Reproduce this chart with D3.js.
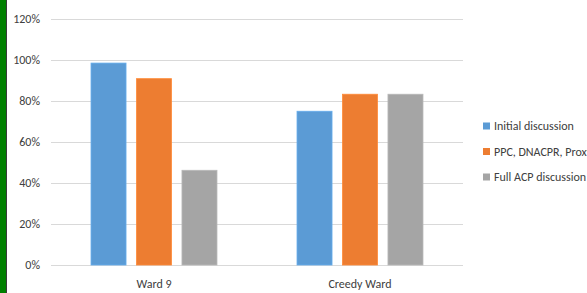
<!DOCTYPE html>
<html>
<head>
<meta charset="utf-8">
<script src="https://cdn.jsdelivr.net/npm/d3@7"></script>
<style>
  body { margin: 0; background: #fff; }
  text { font-family: Carlito, "Liberation Sans Narrow", "Liberation Sans", sans-serif; fill: #404040; }
</style>
</head>
<body>
<div id="chart"></div>
<script>
var w = 587, h = 293;

// data
var categories = ["Ward 9", "Creedy Ward"];
var seriesNames = ["Initial discussion", "PPC, DNACPR, Proxy", "Full ACP discussion"];
var seriesColors = ["#5B9BD5", "#ED7D31", "#A5A5A5"];
var initialDiscussion = [0.985, 0.75];
var ppcDnacpr = [0.909, 0.833];
var fullAcp = [0.462, 0.833];
var yTicks = [0, 0.2, 0.4, 0.6, 0.8, 1.0, 1.2];

var seriesValues = [initialDiscussion, ppcDnacpr, fullAcp];

var svg = d3.select("#chart").append("svg").attr("width", w).attr("height", h);

// green strip on the left edge
svg.append("rect").attr("x", 0).attr("y", 0).attr("width", 6).attr("height", h).attr("fill", "#008000");
svg.append("rect").attr("x", 6).attr("y", 0).attr("width", 1).attr("height", h).attr("fill", "#3a3a3a");

var x0 = d3.scaleBand().domain(categories).range([51, 463]).padding(0);
var x1 = d3.scaleBand().domain(d3.range(seriesNames.length))
  .range([0, x0.bandwidth()]).paddingInner(0.23).paddingOuter(0.88);
var y = d3.scaleLinear().domain([0, 1.2]).range([265, 19]);

// gridlines
svg.append("g").selectAll("line").data(yTicks).join("line")
  .attr("x1", 51).attr("x2", 463)
  .attr("y1", function(d){ return Math.round(y(d)) + 0.5; })
  .attr("y2", function(d){ return Math.round(y(d)) + 0.5; })
  .attr("stroke", "#d9d9d9").attr("stroke-width", 1);

// y labels
svg.append("g").selectAll("text").data(yTicks).join("text")
  .attr("x", 40).attr("y", function(d){ return y(d); })
  .attr("dy", "0.35em").attr("text-anchor", "end")
  .style("font-size", "12px")
  .text(d3.format(".0%"));

// bars
var groups = svg.append("g").selectAll("g").data(categories).join("g")
  .attr("transform", function(d){ return "translate(" + x0(d) + ",0)"; });

groups.selectAll("rect").data(function(c, ci){
    return seriesValues.map(function(vals, si){ return {s: si, v: vals[ci]}; });
  }).join("rect")
  .attr("x", function(d){ return x1(d.s); })
  .attr("width", x1.bandwidth())
  .attr("y", function(d){ return y(d.v); })
  .attr("height", function(d){ return y(0) - y(d.v); })
  .attr("fill", function(d){ return seriesColors[d.s]; })
  .attr("stroke", function(d){ return d3.color(seriesColors[d.s]).brighter(0.3); })
  .attr("stroke-width", 0.8);

// x labels
svg.append("g").selectAll("text").data(categories).join("text")
  .attr("x", function(d){ return x0(d) + x0.bandwidth() / 2; })
  .attr("y", 284).attr("dy", "0.35em").attr("text-anchor", "middle")
  .style("font-size", "12px")
  .text(function(d){ return d; });

// legend
var legend = svg.append("g").selectAll("g").data(seriesNames).join("g")
  .attr("transform", function(d, i){ return "translate(483," + (126 + i * 25.5) + ")"; });
legend.append("rect").attr("x", 0).attr("y", -3.5).attr("width", 7).attr("height", 7)
  .attr("fill", function(d, i){ return seriesColors[i]; });
legend.append("text").attr("x", 11).attr("y", 0).attr("dy", "0.35em")
  .style("font-size", "12px")
  .text(function(d){ return d; });
</script>
</body>
</html>
